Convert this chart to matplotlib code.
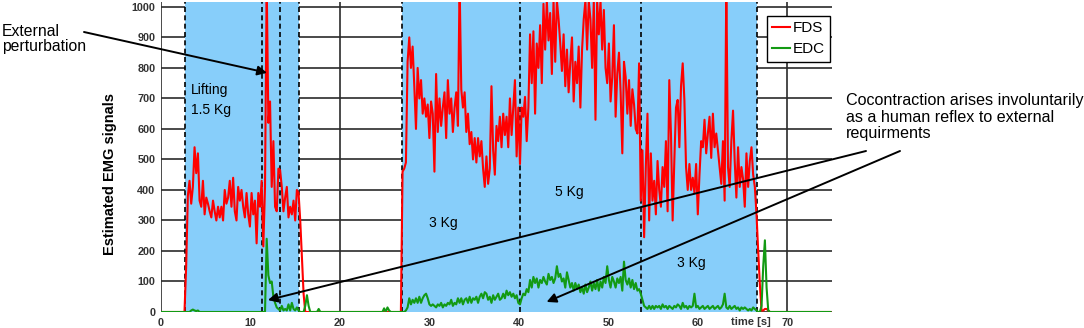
import numpy as np
import matplotlib

matplotlib.use("Agg")
import matplotlib.pyplot as plt

plt.rcParams["font.family"] = ["Liberation Sans", "DejaVu Sans"]

# sampling period of the EMG envelopes [s]
dt = 0.1875

# FDS (flexor) envelope, one value per sample
fds = [
    0, 0, 0, 0, 0, 0, 0, 0, 0, 0, 0, 0, 0, 0, 0,
    150, 380, 430, 355, 410, 540, 455, 520, 365, 345, 430, 320, 375, 355, 330,
    310, 365, 330, 300, 345, 310, 345, 300, 400, 355, 375, 430, 345, 440, 330,
    300, 410, 365, 400, 345, 310, 390, 320, 280, 390, 320, 365, 225, 390, 345,
    430, 215, 410,
    1080, 620, 690, 410, 560, 345, 330, 470, 465, 410, 330, 375, 410, 310, 345,
    320, 365, 300, 400, 390, 300, 180, 60, 0,
    0, 0, 0, 0, 0, 0, 0, 0, 0, 0, 0, 0, 0, 0, 0, 0, 0, 0, 0, 0,
    0, 0, 0, 0, 0, 0, 0, 0, 0, 0, 0, 0, 0, 0, 0, 0, 0, 0, 0, 0,
    0, 0, 0, 0, 0, 0, 0, 0, 0, 0, 0, 0, 0, 0, 0, 0, 0,
    460, 470, 490, 820, 900, 800, 870, 740, 600, 800, 700, 760, 650, 700, 640,
    680, 570, 690, 650, 460, 780, 590, 700, 610, 670, 720, 570, 760, 650, 700,
    590, 670, 720, 610, 1080, 730, 670, 720, 590, 650, 550, 590, 500, 570, 490,
    570, 510, 560, 470, 410, 510, 420, 470, 740, 530, 450, 610, 560, 640, 540,
    650, 580, 640, 540, 700, 580, 670, 760, 510,
    670, 485, 670, 640, 705, 560, 670, 910, 750, 920, 650, 880, 800, 940, 750,
    1010, 860, 1020, 890, 980, 780, 1020, 820, 1020, 960, 880, 790, 910, 740, 860,
    720, 820, 900, 690, 820, 750, 870, 670, 860, 960, 1020, 860, 1020, 960, 800,
    1020, 630, 1020, 910, 1020, 860, 990, 800, 750, 880, 690, 770, 940, 640, 780,
    850, 720, 520, 820, 770, 650, 760, 610, 730, 680, 600,
    585,
    815, 365, 530, 245, 475, 650, 300, 520, 365, 430, 320, 495, 400, 345, 475,
    410, 560, 330, 760, 585, 300, 495, 670, 695, 540, 740, 815, 695, 475, 400,
    485, 400, 440, 390, 485, 320, 450, 560, 540, 630, 520, 585, 640, 505, 650,
    540, 585, 530, 475, 420, 560, 365, 1080, 475, 410, 560, 660, 495, 375, 540,
    410, 475, 435, 345, 520, 410, 495, 540, 450, 410, 320, 200, 90, 5,
    5, 10, 10, 5,
    0, 0, 0, 0, 0, 0, 0, 0, 0, 0, 0, 0, 0, 0, 0, 0, 0, 0, 0, 0,
    0, 0, 0, 0, 0, 0, 0, 0, 0, 0, 0, 0, 0, 0, 0, 0, 0,
]

# EDC (extensor) envelope, same sampling
edc = [
    0, 0, 0, 0, 0, 0, 0, 0, 0, 0, 0, 0, 0, 0, 0, 0, 0, 0,
    5, 8, 5, 3, 5,
    0, 0, 0, 0, 0, 0, 0, 0, 0, 0, 0, 0, 0, 0, 0, 0, 0, 0, 0, 0,
    0, 0, 0, 0, 0, 0, 0, 0, 0, 0, 0, 0, 0, 0, 0, 0, 0, 0, 0, 0,
    240, 120, 95, 100, 50, 30, 15, 10, 5, 20, 5, 10, 5, 25, 5, 30, 10, 5, 15, 5,
    0, 0, 0, 20, 55, 20, 0,
    0, 0, 0, 0, 10,
    0, 0, 0, 0, 0, 0, 0, 0, 0, 0, 0, 0, 0, 0, 0, 0, 0, 0, 0,
    0, 0, 0, 0, 0, 0, 0, 0, 0, 0, 0, 0, 0, 0, 0, 0, 0, 0, 0,
    12, 0, 15, 5, 0,
    0, 0, 0, 0, 0, 0, 0, 0,
    5, 15, 45, 25, 40, 30, 45, 30, 50, 30, 45, 55, 60, 45, 25, 20, 25, 20, 15, 25,
    20, 30, 15, 25, 20, 30, 25, 40, 20, 30, 25, 45, 30, 45, 25, 40, 45, 30, 50, 30,
    45, 40, 50, 30, 50, 60, 45, 65, 60, 40, 50, 30, 55, 40, 50, 60, 40, 45, 60, 45,
    70, 55, 65, 50, 60, 45, 55,
    30, 25, 45, 60, 55, 75, 65, 105, 80, 115, 95, 110, 80, 105, 95, 115, 100, 90,
    125, 105, 115, 95, 110, 150, 115, 125, 100, 110, 80, 130, 105, 80, 95, 70, 95,
    75, 90, 65, 80, 60, 90, 65, 80, 100, 70, 95, 75, 105, 70, 100, 80, 115, 95,
    150, 105, 80, 115, 100, 80, 110, 95, 115, 70, 165, 105, 90, 110, 80, 105, 75,
    95, 70,
    75, 60, 40, 20, 15, 10, 20, 10, 20, 10, 20, 15, 20, 10, 25, 15, 20, 10, 20, 15,
    10, 20, 15, 25, 20, 10, 30, 15, 20, 10, 20, 15, 20, 60, 15, 20, 10, 15, 20, 10,
    15, 20, 10, 15, 20, 10, 15, 20, 10, 15, 25, 60, 15, 10, 20, 10, 15, 20, 10, 15,
    5, 15, 10, 15, 10, 5, 10, 5, 15, 10, 5, 0, 0,
    20, 150, 235, 80, 5,
    0, 0, 0, 0, 0, 0, 0, 0, 0, 0, 0, 0, 0, 0, 0, 0, 0, 0, 0, 0,
    0, 0, 0, 0, 0, 0, 0, 0, 0, 0, 0, 0, 0, 0, 0, 0, 0,
]

# task phases (start, end) in seconds and the event markers
phases = [(2.7, 15.4), (26.9, 66.6)]
markers = [2.7, 11.3, 13.3, 15.4, 26.9, 40.1, 53.6, 66.6]
phase_labels = [(3.3, 728, "Lifting"), (3.3, 662, "1.5 Kg"),
                (31.6, 291, "3 Kg"), (45.6, 393, "5 Kg"), (59.3, 160, "3 Kg")]

t_fds = np.arange(len(fds)) * dt
t_edc = np.arange(len(edc)) * dt

W, H = 1084, 328
fig = plt.figure(figsize=(W / 100, H / 100), dpi=100)
ax = fig.add_axes([161 / W, 1 - 312 / H, 671 / W, 310 / H])

ax.set_xlim(0, 75)
ax.set_ylim(0, 1016)
ax.set_xticks(range(0, 71, 10))
ax.set_yticks(range(0, 1001, 100))
ax.set_axisbelow(True)
ax.grid(True, color="#2b2b2b", lw=1.2)
for s in ax.spines.values():
    s.set_visible(False)
ax.tick_params(length=0, labelsize=7.8, labelcolor="#333333", pad=4)
for lbl in ax.get_xticklabels() + ax.get_yticklabels():
    lbl.set_fontweight("bold")

for a, b in phases:
    ax.axvspan(a, b, color="#87cefa", lw=0, zorder=1)
for m in markers:
    ax.axvline(m, color="black", lw=1.2, ls=(0, (3, 2)), zorder=2)

ax.plot(t_fds, fds, color="#ff0000", lw=1.5, label="FDS", zorder=3)
ax.plot(t_edc, edc, color="#139a13", lw=1.5, label="EDC", zorder=3)

for x, y, s in phase_labels:
    ha = "left" if s in ("Lifting", "1.5 Kg") else "center"
    ax.text(x, y, s, fontsize=10, ha=ha, va="center", zorder=4)

ax.set_ylabel("Estimated EMG signals", fontsize=10.5, fontweight="bold")
ax.yaxis.set_label_coords((117 - 161) / 671, 0.445)
ax.text(65.9, -0.032, "time [s]", transform=ax.get_xaxis_transform(),
        fontsize=8, fontweight="bold", color="#333333", ha="center", va="center")

leg = ax.legend(loc="upper right", bbox_to_anchor=(0.997, 0.955), borderaxespad=0,
                fontsize=11, handlelength=1.2, handletextpad=0.15, fancybox=False,
                framealpha=1, edgecolor="black", borderpad=0.35, labelspacing=0.45)
leg.get_frame().set_linewidth(1.0)
leg.set_zorder(6)

arrow = dict(arrowstyle="-|>", color="black", lw=1.4, mutation_scale=14,
             shrinkA=0, shrinkB=0)
ax.annotate("", xy=(11.85, 784), xytext=(84 / W, 1 - 32 / H),
            textcoords="figure fraction", arrowprops=arrow, zorder=5,
            annotation_clip=False)
ax.annotate("", xy=(11.95, 39), xytext=(866 / W, 1 - 151 / H),
            textcoords="figure fraction", arrowprops=arrow, zorder=5,
            annotation_clip=False)
ax.annotate("", xy=(43.1, 33), xytext=(900 / W, 1 - 151 / H),
            textcoords="figure fraction", arrowprops=arrow, zorder=5,
            annotation_clip=False)

fig.text(2 / W, 1 - 39 / H, "External\nperturbation", fontsize=11.3,
         ha="left", va="center", linespacing=1.08)
fig.text(846 / W, 1 - 117 / H,
         "Cocontraction arises involuntarily\nas a human reflex to external\nrequirments",
         fontsize=11.6, ha="left", va="center", linespacing=1.1)

fig.savefig("out.png", dpi=100)
